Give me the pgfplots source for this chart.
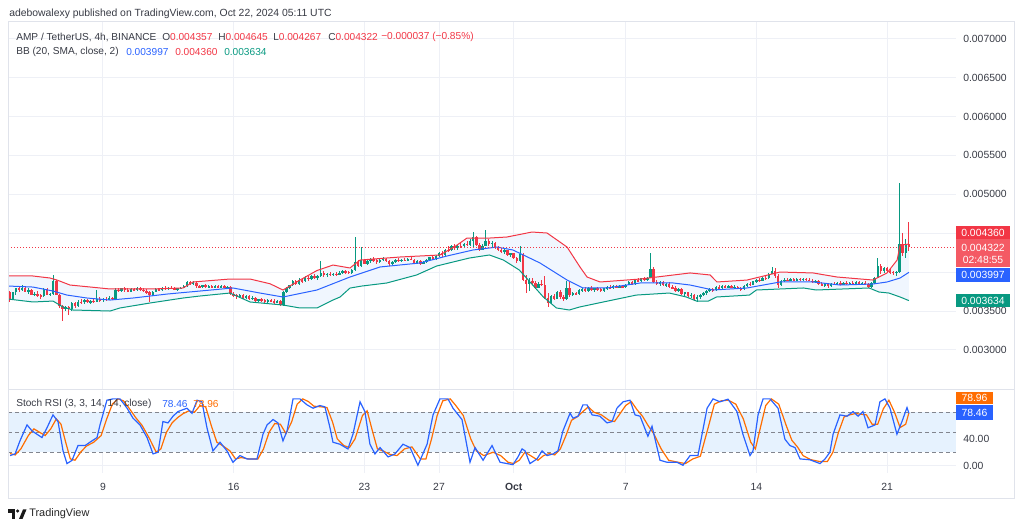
\documentclass[border=0pt]{standalone}
\usepackage{pgfplots}
\pgfplotsset{compat=1.18}
\usepackage{pgfplotstable}
\usepgfplotslibrary{fillbetween}
\usepackage{fontspec}
\setmainfont{Liberation Sans}

\definecolor{tvred}{RGB}{242,54,69}
\definecolor{tvred2}{RGB}{244,90,100}
\definecolor{tvgreen}{RGB}{8,153,129}
\definecolor{tvblue}{RGB}{41,98,255}
\definecolor{tvorange}{RGB}{255,109,0}
\definecolor{gridc}{RGB}{238,240,246}
\definecolor{framec}{RGB}{224,227,235}
\definecolor{txt}{RGB}{55,58,68}
\definecolor{bbfill}{RGB}{240,246,254}
\definecolor{stfill}{RGB}{230,242,254}
\definecolor{dashc}{RGB}{130,133,142}

\newcommand\lf{\fontsize{7.6}{9}\selectfont}
\newcommand\tf{\fontsize{7.8}{9}\selectfont}

% 4h candles, prices in units of 0.000001, first row = Sep 4 00:00
\pgfplotstableread[row sep=\\]{
o h l c\\
3740 3760 3610 3660\\ 3660 3750 3650 3740\\ 3740 3800 3700 3790\\ 3790 3810 3750 3770\\ 3770 3830 3760 3800\\ 3800 3820 3740 3750\\
3750 3790 3720 3770\\ 3770 3780 3700 3710\\ 3710 3740 3690 3720\\ 3720 3760 3680 3700\\ 3700 3720 3660 3690\\ 3690 3800 3680 3780\\
3780 3790 3700 3710\\ 3710 3730 3690 3720\\ 3720 3960 3710 3890\\ 3890 3900 3700 3710\\ 3710 3720 3540 3560\\ 3560 3580 3370 3530\\
3530 3570 3500 3550\\ 3550 3560 3450 3520\\ 3520 3620 3500 3600\\ 3600 3610 3540 3560\\ 3560 3640 3550 3620\\ 3620 3650 3590 3610\\
3610 3650 3590 3640\\ 3640 3660 3600 3610\\ 3610 3640 3590 3630\\ 3630 3650 3600 3620\\ 3620 3770 3610 3650\\ 3650 3680 3620 3640\\
3640 3670 3620 3660\\ 3660 3680 3630 3650\\ 3650 3690 3640 3670\\ 3670 3680 3640 3660\\ 3660 3790 3650 3770\\ 3770 3800 3740 3760\\
3760 3800 3740 3790\\ 3790 3810 3750 3770\\ 3770 3790 3740 3750\\ 3750 3790 3740 3780\\ 3780 3800 3760 3770\\ 3770 3810 3760 3790\\
3790 3810 3760 3770\\ 3770 3800 3740 3760\\ 3760 3780 3720 3740\\ 3740 3760 3620 3700\\ 3700 3760 3690 3750\\ 3750 3790 3740 3780\\
3780 3800 3760 3770\\ 3770 3810 3760 3800\\ 3800 3820 3770 3780\\ 3780 3810 3770 3800\\ 3800 3820 3780 3790\\ 3790 3810 3770 3780\\
3780 3800 3760 3790\\ 3790 3810 3780 3800\\ 3800 3830 3790 3820\\ 3820 3880 3810 3870\\ 3870 3890 3840 3850\\ 3850 3880 3830 3860\\
3860 3880 3800 3820\\ 3820 3840 3790 3810\\ 3810 3840 3800 3830\\ 3830 3850 3800 3810\\ 3810 3830 3790 3820\\ 3820 3840 3800 3810\\
3810 3830 3790 3820\\ 3820 3840 3800 3810\\ 3810 3830 3790 3820\\ 3820 3830 3790 3800\\ 3800 3820 3780 3810\\ 3810 3820 3700 3720\\
3720 3740 3680 3700\\ 3700 3720 3660 3680\\ 3680 3720 3670 3710\\ 3710 3720 3660 3670\\ 3670 3700 3650 3690\\ 3690 3700 3640 3660\\
3660 3690 3640 3670\\ 3670 3680 3620 3630\\ 3630 3660 3610 3650\\ 3650 3670 3620 3640\\ 3640 3660 3600 3620\\ 3620 3650 3600 3640\\
3640 3660 3610 3630\\ 3630 3650 3590 3610\\ 3610 3640 3600 3630\\ 3630 3640 3560 3580\\ 3580 3760 3570 3740\\ 3740 3810 3730 3800\\
3800 3840 3780 3830\\ 3830 3900 3820 3880\\ 3880 3900 3840 3850\\ 3850 3920 3840 3900\\ 3900 3930 3860 3880\\ 3880 3950 3870 3930\\
3930 3950 3890 3910\\ 3910 3960 3900 3950\\ 3950 3970 3910 3930\\ 3930 3960 3900 3950\\ 3950 4140 3940 3990\\ 3990 4010 3940 3960\\
3960 3990 3940 3980\\ 3980 4000 3950 3960\\ 3960 3990 3950 3980\\ 3980 4000 3950 3970\\ 3970 4010 3960 3990\\ 3990 4030 3970 4010\\
4010 4030 3980 4000\\ 4000 4020 3970 3990\\ 3990 4040 3980 4030\\ 4030 4450 4020 4130\\ 4130 4160 4060 4080\\ 4080 4320 4070 4150\\
4150 4170 4100 4110\\ 4110 4160 4090 4140\\ 4140 4180 4120 4170\\ 4170 4190 4130 4150\\ 4150 4170 4110 4130\\ 4130 4170 4120 4160\\
4160 4190 4140 4170\\ 4170 4180 4130 4140\\ 4140 4160 4080 4100\\ 4100 4140 4090 4130\\ 4130 4170 4120 4160\\ 4160 4180 4130 4140\\
4140 4170 4130 4160\\ 4160 4180 4140 4150\\ 4150 4180 4140 4170\\ 4170 4190 4150 4160\\ 4160 4170 4110 4120\\ 4120 4150 4100 4140\\
4140 4150 4090 4110\\ 4110 4140 4100 4130\\ 4130 4170 4120 4160\\ 4160 4200 4150 4190\\ 4190 4210 4150 4170\\ 4170 4220 4160 4210\\
4210 4260 4190 4250\\ 4250 4270 4200 4220\\ 4220 4300 4210 4290\\ 4290 4330 4260 4280\\ 4280 4350 4270 4340\\ 4340 4360 4290 4310\\
4310 4350 4290 4340\\ 4340 4380 4310 4330\\ 4330 4370 4320 4360\\ 4360 4400 4330 4350\\ 4350 4420 4340 4400\\ 4400 4510 4320 4450\\
4450 4460 4330 4350\\ 4350 4370 4270 4290\\ 4290 4360 4280 4340\\ 4340 4540 4330 4400\\ 4400 4420 4340 4360\\ 4360 4400 4320 4380\\
4380 4390 4300 4320\\ 4320 4340 4270 4290\\ 4290 4310 4240 4260\\ 4260 4300 4230 4280\\ 4280 4290 4210 4220\\ 4220 4250 4190 4240\\
4240 4250 4170 4180\\ 4180 4200 4120 4140\\ 4140 4330 4130 4230\\ 4230 4240 3880 3900\\ 3900 3960 3730 3850\\ 3850 3920 3760 3890\\
3890 3930 3840 3860\\ 3860 3880 3780 3800\\ 3800 3870 3790 3850\\ 3850 3900 3820 3840\\ 3840 3950 3650 3670\\ 3670 3730 3550 3600\\
3600 3700 3590 3690\\ 3690 3720 3640 3660\\ 3660 3760 3650 3740\\ 3740 3770 3660 3680\\ 3680 3700 3630 3650\\ 3650 3880 3640 3800\\
3800 3870 3680 3700\\ 3700 3740 3690 3730\\ 3730 3750 3700 3720\\ 3720 3780 3710 3770\\ 3770 3800 3750 3780\\ 3780 3810 3740 3760\\
3760 3810 3750 3800\\ 3800 3820 3760 3770\\ 3770 3800 3750 3790\\ 3790 3810 3760 3780\\ 3780 3800 3750 3760\\ 3760 3800 3750 3790\\
3790 3820 3770 3810\\ 3810 3830 3780 3790\\ 3790 3830 3780 3820\\ 3820 3840 3790 3800\\ 3800 3830 3790 3820\\ 3820 3840 3800 3810\\
3810 3850 3800 3840\\ 3840 3880 3830 3870\\ 3870 3890 3840 3850\\ 3850 3910 3840 3900\\ 3900 3920 3870 3880\\ 3880 3930 3870 3920\\
3920 3940 3880 3900\\ 3900 3940 3880 3930\\ 3930 4250 3920 4040\\ 4040 4060 3860 3870\\ 3870 3900 3830 3850\\ 3850 3880 3820 3870\\
3870 3890 3820 3830\\ 3830 3860 3810 3850\\ 3850 3870 3800 3810\\ 3810 3840 3780 3790\\ 3790 3820 3750 3760\\ 3760 3790 3740 3780\\
3780 3790 3700 3720\\ 3720 3750 3690 3740\\ 3740 3750 3680 3690\\ 3690 3730 3670 3710\\ 3710 3720 3630 3650\\ 3650 3700 3620 3680\\
3680 3720 3660 3710\\ 3710 3740 3690 3730\\ 3730 3770 3710 3760\\ 3760 3790 3740 3780\\ 3780 3800 3750 3770\\ 3770 3820 3760 3810\\
3810 3830 3780 3790\\ 3790 3830 3780 3820\\ 3820 3840 3790 3800\\ 3800 3830 3790 3820\\ 3820 3840 3790 3800\\ 3800 3830 3790 3810\\
3810 3820 3780 3790\\ 3790 3810 3760 3780\\ 3780 3830 3770 3820\\ 3820 3860 3810 3850\\ 3850 3870 3820 3840\\ 3840 3890 3830 3880\\
3880 3910 3860 3900\\ 3900 3920 3870 3890\\ 3890 3940 3880 3930\\ 3930 3950 3900 3920\\ 3920 3990 3910 3980\\ 3980 4060 3970 4020\\
4020 4050 3930 3950\\ 3950 3970 3800 3830\\ 3830 3900 3820 3890\\ 3890 3920 3870 3900\\ 3900 3930 3880 3890\\ 3890 3920 3880 3910\\
3910 3930 3880 3890\\ 3890 3920 3880 3910\\ 3910 3930 3890 3900\\ 3900 3920 3880 3910\\ 3910 3930 3890 3900\\ 3900 3920 3880 3890\\
3890 3910 3860 3870\\ 3870 3900 3860 3890\\ 3890 3900 3840 3850\\ 3850 3870 3820 3830\\ 3830 3860 3810 3850\\ 3850 3860 3800 3820\\
3820 3860 3810 3850\\ 3850 3870 3830 3840\\ 3840 3870 3830 3860\\ 3860 3880 3830 3840\\ 3840 3870 3830 3860\\ 3860 3880 3840 3850\\
3850 3870 3830 3860\\ 3860 3880 3840 3850\\ 3850 3880 3840 3870\\ 3870 3880 3840 3850\\ 3850 3870 3830 3860\\ 3860 3880 3840 3850\\
3850 3860 3790 3810\\ 3810 3870 3800 3860\\ 3860 3940 3850 3930\\ 3930 4180 3920 4080\\ 4080 4100 3980 4010\\ 4010 4060 3990 4050\\
4050 4070 4000 4010\\ 4010 4040 3980 4000\\ 4000 4020 3960 3990\\ 3990 4010 3950 4000\\ 4000 5145 3990 4360\\ 4360 4500 4210 4250\\
4250 4420 4180 4357\\ 4357 4645 4267 4322\\
}\candles

% Bollinger band edges
\pgfplotstableread{
d p
3.91 3950
5.25 3950
6.16 3924
6.54 3898
7.23 3834
8.84 3796
9.38 3783
11.52 3783
13.29 3796
13.82 3873
15.80 3911
16.88 3911
17.95 3850
18.64 3770
19.55 3898
20.46 4020
21.32 4091
22.23 4053
22.77 4155
24.91 4194
27.05 4220
27.86 4330
28.50 4438
29.73 4438
30.64 4451
31.98 4515
32.79 4502
33.86 4322
34.55 4066
34.93 3937
35.63 3873
37.77 3911
40.45 3989
41.52 3963
41.89 3873
43.50 3898
45.27 4001
47.04 3989
48.32 3937
50.25 3898
51.00 3989
51.54 4155
51.70 4348
52.17 4360
}\bbup
\pgfplotstableread{
d p
3.91 3654
5.25 3616
6.32 3628
6.86 3551
7.39 3513
9.38 3500
9.91 3539
11.52 3603
13.29 3667
14.20 3693
15.80 3731
16.88 3616
18.64 3577
19.55 3539
20.46 3539
21.32 3641
21.70 3680
22.23 3795
22.87 3821
24.20 3860
25.80 3963
26.87 4078
28.63 4181
29.70 4220
30.45 4155
31.30 4027
32.59 3680
33.29 3539
33.98 3513
34.52 3551
35.80 3616
37.57 3705
39.34 3731
40.25 3680
40.79 3628
41.43 3628
41.86 3680
43.63 3705
44.00 3770
46.52 3796
47.20 3770
50.04 3796
50.57 3744
51.10 3731
51.70 3680
52.17 3634
}\bblo

\begin{document}
\begin{tikzpicture}[x=0.75pt,y=0.75pt]
\path (0,0) rectangle (1024,530);

% ---------------- price panel ----------------
\begin{axis}[
  at={(6pt,105.75pt)}, anchor=south west,
  scale only axis, width=711pt, height=275.25pt,
  xmin=3.911, xmax=54.695, ymin=2498, ymax=7214,
  axis line style={draw=none}, major tick length=0pt,
  xtick={9,16,23,27,31,37,44,51}, xticklabels={,,,,,,,},
  ytick={3000,3500,4000,4500,5000,5500,6000,6500,7000},
  yticklabels={0.003000,0.003500,,,0.005000,0.005500,0.006000,0.006500,0.007000},
  yticklabel pos=right,
  yticklabel style={anchor=west, inner sep=0pt, xshift=5.25pt, font=\tf, text=txt},
  xmajorgrids, ymajorgrids,
  major grid style={gridc, line width=0.75pt},
]
\addplot[draw=none, name path=up] table[x=d, y=p] {\bbup};
\addplot[draw=none, name path=lo] table[x=d, y=p] {\bblo};
\addplot[bbfill] fill between[of=up and lo];
% candles: wicks and bodies as error bars
\addplot[draw=none, mark=none, forget plot,
  restrict expr to domain={\thisrow{c}-\thisrow{o}}{0:100000},
  error bars/.cd, y dir=both, y explicit, error mark=none,
  error bar style={draw=tvgreen, line width=0.6pt}]
  table[x expr=4+\coordindex/6, y expr=(\thisrow{h}+\thisrow{l})/2,
        y error expr=(\thisrow{h}-\thisrow{l})/2] {\candles};
\addplot[draw=none, mark=none, forget plot,
  restrict expr to domain={\thisrow{c}-\thisrow{o}}{0:100000},
  error bars/.cd, y dir=both, y explicit, error mark=none,
  error bar style={draw=tvgreen, line width=1.8pt}]
  table[x expr=4+\coordindex/6, y expr=(\thisrow{o}+\thisrow{c})/2,
        y error expr={max(abs(\thisrow{c}-\thisrow{o})/2,5)}] {\candles};
\addplot[draw=none, mark=none, forget plot,
  restrict expr to domain={\thisrow{c}-\thisrow{o}}{-100000:-0.5},
  error bars/.cd, y dir=both, y explicit, error mark=none,
  error bar style={draw=tvred, line width=0.6pt}]
  table[x expr=4+\coordindex/6, y expr=(\thisrow{h}+\thisrow{l})/2,
        y error expr=(\thisrow{h}-\thisrow{l})/2] {\candles};
\addplot[draw=none, mark=none, forget plot,
  restrict expr to domain={\thisrow{c}-\thisrow{o}}{-100000:-0.5},
  error bars/.cd, y dir=both, y explicit, error mark=none,
  error bar style={draw=tvred, line width=1.8pt}]
  table[x expr=4+\coordindex/6, y expr=(\thisrow{o}+\thisrow{c})/2,
        y error expr={max(abs(\thisrow{c}-\thisrow{o})/2,5)}] {\candles};
% bands and basis on top of candles
\addplot[tvred, line width=0.75pt] table[x=d, y=p] {\bbup};
\addplot[tvgreen, line width=0.75pt] table[x=d, y=p] {\bblo};
\addplot[tvblue, line width=0.75pt] coordinates {
(3.91,3821) (5.25,3808) (6.32,3757) (7.07,3705) (8.14,3667) (9.38,3641) (10.61,3667)
(12.43,3718) (14.20,3757) (15.96,3796) (17.41,3731) (18.64,3680) (20.46,3770) (22.23,3937)
(23.84,4066) (25.98,4117) (27.43,4207) (28.82,4284) (30.11,4322) (30.96,4284) (32.41,4117)
(33.86,3898) (34.71,3796) (36.00,3796) (37.77,3860) (39.55,3860) (40.45,3834) (41.68,3770)
(43.50,3796) (45.27,3873) (47.04,3873) (48.48,3834) (50.25,3847) (51.00,3873) (51.70,3924)
(52.17,3997)};
% last price line
\addplot[tvred, line width=0.6pt, dash pattern=on 0.75pt off 1.5pt] coordinates {(3.911,4322) (54.695,4322)};
\end{axis}

% ---------------- Stoch RSI panel ----------------
\begin{axis}[
  at={(6pt,42.75pt)}, anchor=south west,
  scale only axis, width=711pt, height=61.5pt,
  xmin=3.911, xmax=54.695, ymin=-11.1, ymax=111.8,
  axis line style={draw=none}, major tick length=0pt,
  xtick={9,16,23,27,31,37,44,51},
  xticklabels={9,16,23,27,\textbf{Oct},7,14,21},
  xticklabel style={anchor=center, yshift=-10.5pt, font=\tf, text=txt},
  ytick={0,40,80}, yticklabels={0.00,40.00,},
  yticklabel pos=right,
  yticklabel style={anchor=west, inner sep=0pt, xshift=5.25pt, font=\tf, text=txt},
  xmajorgrids, ymajorgrids,
  major grid style={gridc, line width=0.75pt},
]
\addplot[draw=none, name path=b80] coordinates {(3.911,80) (54.695,80)};
\addplot[draw=none, name path=b20] coordinates {(3.911,20) (54.695,20)};
\addplot[stfill] fill between[of=b80 and b20];
\addplot[dashc, line width=0.6pt, dash pattern=on 3pt off 2.25pt] coordinates {(3.911,80) (54.695,80)};
\addplot[dashc, line width=0.6pt, dash pattern=on 3pt off 2.25pt] coordinates {(3.911,50) (54.695,50)};
\addplot[dashc, line width=0.6pt, dash pattern=on 3pt off 2.25pt] coordinates {(3.911,20) (54.695,20)};
% %D
\addplot[tvorange, line width=0.9pt] coordinates {
(4.02,18) (4.3,16) (4.6,25) (5.0,45) (5.3,55) (5.6,50) (5.9,45) (6.2,55) (6.5,70) (6.75,62)
(7.0,35) (7.25,10) (7.5,8) (7.8,20) (8.1,29) (8.5,35) (8.9,45) (9.2,70) (9.5,92) (9.8,100)
(10.1,97) (10.4,86) (10.75,72) (11.1,60) (11.5,40) (11.85,20) (12.1,25) (12.4,50) (12.7,64)
(13.0,72) (13.3,78) (13.6,82) (13.9,80) (14.2,90) (14.5,88) (14.8,60) (15.1,35) (15.4,30)
(15.8,22) (16.1,10) (16.4,12) (16.8,10) (17.3,10) (17.6,25) (17.9,50) (18.2,63) (18.5,62)
(18.8,48) (19.1,65) (19.4,92) (19.7,100) (20.0,96) (20.3,89) (20.7,88) (21.0,87) (21.3,65)
(21.55,40) (21.9,30) (22.2,27) (22.5,40) (22.9,75) (23.15,82) (23.45,50) (23.7,25) (24.0,22)
(24.35,17) (24.75,15) (25.15,25) (25.55,28) (26.0,10) (26.3,10) (26.6,40) (26.9,75) (27.2,97)
(27.6,100) (27.9,90) (28.3,75) (28.7,40) (29.0,22) (29.4,15) (29.9,20) (30.3,15) (30.7,5)
(31.0,3) (31.3,8) (31.6,20) (31.9,15) (32.3,8) (32.6,15) (32.9,18) (33.2,16) (33.5,25)
(33.8,45) (34.1,68) (34.4,73) (34.75,82) (35.0,88) (35.3,80) (35.7,76) (36.1,68) (36.4,66)
(36.7,78) (37.0,90) (37.3,96) (37.6,84) (37.9,74) (38.2,60) (38.5,48) (38.9,25) (39.3,8)
(39.8,5) (40.2,3) (40.6,10) (41.0,14) (41.4,55) (41.75,92) (42.1,97) (42.5,98) (42.9,92)
(43.3,70) (43.7,35) (43.95,25) (44.2,55) (44.5,90) (44.8,100) (45.2,92) (45.6,60) (45.9,38)
(46.2,28) (46.5,15) (46.9,9) (47.4,6) (47.8,6) (48.1,20) (48.4,50) (48.7,73) (49.0,76)
(49.3,78) (49.6,77) (49.9,76) (50.2,62) (50.5,62) (50.8,85) (51.1,98) (51.4,80) (51.7,57)
(52.0,62) (52.17,78.96)};
% %K
\addplot[tvblue, line width=0.9pt] coordinates {
(4.02,15) (4.29,17.5) (4.55,37) (4.93,61) (5.20,52) (5.46,47) (5.73,42) (6.0,56.6) (6.32,76)
(6.59,66) (6.86,22) (7.07,3) (7.34,7.8) (7.66,30) (8.04,30) (8.30,35) (8.68,42) (8.84,61)
(9.21,98) (9.54,100) (9.91,100) (10.29,86) (10.61,71) (10.98,61) (11.36,42) (11.68,17.5)
(11.95,20) (12.21,66) (12.48,64) (12.75,74) (13.02,81) (13.50,86) (13.77,78.5) (14.04,98)
(14.30,95.6) (14.57,56.6) (14.89,22) (15.27,35) (15.64,22) (15.96,5) (16.34,15) (16.71,10)
(17.25,10) (17.57,47) (17.79,61) (18.11,69) (18.37,64) (18.64,37) (18.86,52) (19.18,100)
(19.55,100) (19.93,91) (20.25,86) (20.62,90) (20.89,88) (21.16,56.6) (21.32,35) (21.69,32)
(22.12,25) (22.39,47) (22.77,95.6) (23.03,81) (23.30,32) (23.57,17.5) (23.84,27) (24.27,13)
(24.64,17.5) (25.07,32) (25.45,27) (25.87,0.5) (26.36,32) (26.68,76) (27.05,100) (27.48,100)
(27.75,86) (28.23,69) (28.66,5) (28.93,27) (29.36,8) (29.84,30) (30.27,5) (30.64,3) (30.96,1.4)
(31.23,13) (31.45,25) (31.61,22) (31.87,3) (32.25,10) (32.52,22) (32.79,15) (33.11,17.5)
(33.37,22) (33.64,52) (34.02,78.5) (34.18,71) (34.45,74) (34.71,91) (34.93,91) (35.20,76)
(35.62,74) (36.0,64) (36.27,66) (36.53,86) (36.86,95.6) (37.23,98) (37.50,76) (37.77,74)
(38.19,44) (38.41,59) (38.84,8) (39.21,5) (39.75,5) (40.07,0.5) (40.45,15) (40.87,15)
(41.36,86) (41.68,100) (42.05,95.6) (42.48,99.5) (42.96,81) (43.28,47) (43.66,15) (43.82,22)
(44.09,76) (44.36,100) (44.73,100) (45.16,86) (45.53,39.5) (45.80,30) (46.07,27) (46.34,10)
(46.87,8.7) (47.41,3) (47.68,10) (47.94,20) (48.11,47) (48.48,76) (48.86,74) (49.18,81)
(49.45,74) (49.71,81) (49.98,56.6) (50.36,61) (50.62,95.6) (50.89,100) (51.16,86) (51.53,47)
(51.80,66) (52.07,87) (52.17,78.46)};
\end{axis}

% frame and separators
\draw[framec, line width=0.75pt] (8,508) rectangle (1014,31);
\draw[framec, line width=0.75pt] (8,140) -- (1014,140);

% header and legends
\node[anchor=west, inner sep=0, text=txt, font=\fontsize{7.8}{9}\selectfont] at (9,516)
  {adebowalexy published on TradingView.com, Oct 22, 2024 05:11 UTC};
\begin{scope}[every node/.style={anchor=west, inner sep=0, font=\lf}]
\node[text=txt] at (16,493) {AMP / TetherUS, 4h, BINANCE};
\node[text=txt] at (162,493) {O\textcolor{tvred}{0.004357}};
\node[text=txt] at (218,493) {H\textcolor{tvred}{0.004645}};
\node[text=txt] at (273,493) {L\textcolor{tvred}{0.004267}};
\node[text=txt] at (328,493) {C\textcolor{tvred}{0.004322}};
\node[text=tvred] at (381,493) {−0.000037 (−0.85\%)};
\node[text=txt] at (16,478) {BB (20, SMA, close, 2)};
\node[text=tvblue] at (126,478) {0.003997};
\node[text=tvred] at (175,478) {0.004360};
\node[text=tvgreen] at (224,478) {0.003634};
\node[text=txt] at (16,126) {Stoch RSI (3, 3, 14, 14, close)};
\node[text=tvblue] at (162,126) {78.46};
\node[text=tvorange] at (193,126) {78.96};
\end{scope}

% price scale labels
\begin{scope}[every node/.style={inner sep=0, text=white, font=\tf}]
\fill[tvred] (956,304) rectangle (1010,291);
\node at (983,297.5) {0.004360};
\fill[tvred2] (956,290.5) rectangle (1010,263);
\node at (983,282) {0.004322};
\node at (983,270) {02:48:55};
\fill[tvblue] (956,262) rectangle (1010,248);
\node at (983,255) {0.003997};
\fill[tvgreen] (956,236) rectangle (1010,223);
\node at (983,229.5) {0.003634};
\fill[tvorange] (956,138) rectangle (993,126);
\node at (974.5,132) {78.96};
\fill[tvblue] (956,125) rectangle (993,110);
\node at (974.5,117.5) {78.46};
\end{scope}

% TradingView logo
\fill[black!90] (8,20.5) rectangle (15,17);
\fill[black!90] (11.5,20.5) rectangle (15,11);
\fill[black!90] (17.6,19) circle (1.7);
\fill[black!90] (19,11) -- (22.5,11) -- (26.5,20.5) -- (23,20.5) -- cycle;
\node[anchor=west, inner sep=0, text=black!85, font=\fontsize{8.2}{9}\selectfont] at (29,16) {TradingView};
\end{tikzpicture}
\end{document}
